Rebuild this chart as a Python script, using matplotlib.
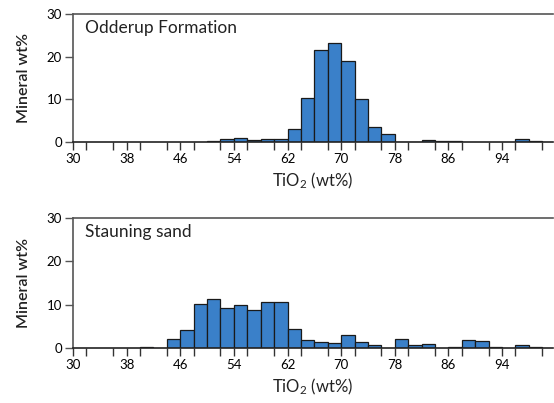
import matplotlib
matplotlib.use("Agg")
import matplotlib.pyplot as plt
from matplotlib.ticker import MultipleLocator

plt.rcParams['font.family'] = ['Lato', 'DejaVu Sans']
plt.rcParams['mathtext.fontset'] = 'custom'
plt.rcParams['mathtext.rm'] = 'Lato'
plt.rcParams['mathtext.it'] = 'Lato:italic'

# Data: left bin edges (TiO2 wt%, bin width 2) and mineral wt%
odderup_bins = [50, 52, 54, 56, 58, 60, 62, 64, 66, 68, 70, 72, 74, 76, 78, 80, 82, 84, 86, 96, 98]
odderup_vals = [0.2, 0.6, 0.9, 0.5, 0.7, 0.7, 3.0, 10.2, 21.5, 23.3, 19.0, 10.0, 3.5, 1.9, 0.1, 0.1, 0.5, 0.2, 0.2, 0.8, 0.2]

stauning_bins = [40, 44, 46, 48, 50, 52, 54, 56, 58, 60, 62, 64, 66, 68, 70, 72, 74, 78, 80, 82, 86, 88, 90, 92, 96, 98]
stauning_vals = [0.3, 2.1, 4.2, 10.2, 11.2, 9.3, 9.9, 8.8, 10.7, 10.7, 4.3, 1.85, 1.3, 1.1, 3.0, 1.5, 0.6, 2.1, 0.6, 0.85, 0.3, 1.85, 1.6, 0.3, 0.6, 0.3]

bin_width = 2
xtick_labels = [30, 38, 46, 54, 62, 70, 78, 86, 94]
yticks = [0, 10, 20, 30]

panels = [
    ("Odderup Formation", odderup_bins, odderup_vals, [73/554, (403-142)/403, 480/554, 128/403]),
    ("Stauning sand", stauning_bins, stauning_vals, [73/554, (403-348)/403, 480/554, 130/403]),
]

fig = plt.figure(figsize=(5.54, 4.03), dpi=100)
bar_color = '#3a80c9'
spine_color = '#555555'

for title, bins, vals, rect in panels:
    ax = fig.add_axes(rect)
    ax.bar(bins, vals, width=bin_width, align='edge', color=bar_color,
           edgecolor='#1a1a1a', linewidth=0.9, zorder=2)
    ax.set_xlim(30, 101.6)
    ax.set_ylim(0, 30)
    ax.set_xticks(xtick_labels)
    ax.set_xticklabels([str(v) for v in xtick_labels])
    ax.xaxis.set_minor_locator(MultipleLocator(4))
    ax.set_yticks(yticks)
    ax.spines['right'].set_visible(False)
    for s in ['left', 'bottom', 'top']:
        ax.spines[s].set_color(spine_color)
        ax.spines[s].set_linewidth(1.2)
    ax.spines['bottom'].set_color('#222222')
    ax.tick_params(axis='x', which='both', direction='out', length=6, width=1.0,
                   color='#333333', labelsize=9.5, pad=2)
    ax.tick_params(axis='y', direction='out', length=6, width=1.0,
                   color=spine_color, labelsize=9.5, pad=2)
    ax.text(0.026, 0.89, title, transform=ax.transAxes, fontsize=12.5,
            ha='left', va='center', color='#222222')
    ax.set_ylabel('Mineral wt%', fontsize=11.5, labelpad=11, color='#222222',
                  fontweight='semibold')
    ax.set_xlabel('TiO$_{\\mathrm{2}}$ (wt%)', fontsize=12, labelpad=4, color='#222222')

fig.savefig('out.png', dpi=100)
